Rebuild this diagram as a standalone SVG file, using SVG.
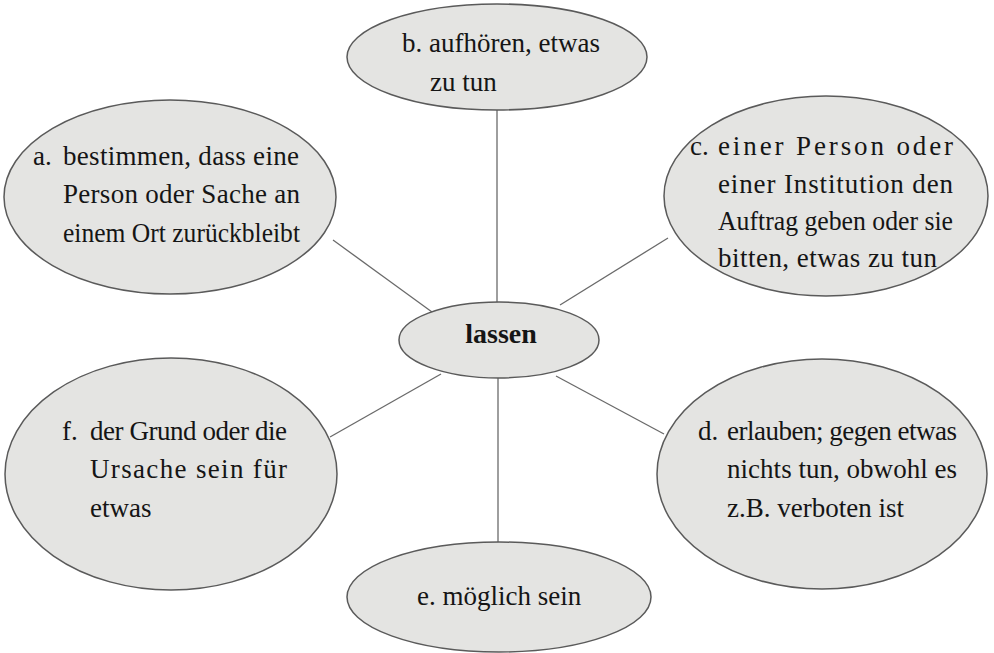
<svg xmlns="http://www.w3.org/2000/svg" width="994" height="653" viewBox="0 0 994 653">
<style>
.n{fill:#e4e4e2;stroke:#5a5a5a;stroke-width:1.5}
.t{font-family:"Liberation Serif","Times New Roman",serif;font-size:27px;fill:#151515}
.b{font-weight:bold;font-size:28px}
.c line{stroke:#6a6a6a;stroke-width:1.3}
</style>
<rect width="994" height="653" fill="#ffffff"/>
<g id="connectors" class="c">
<line x1="497" y1="110" x2="497" y2="302"/>
<line x1="498" y1="378" x2="498" y2="543"/>
<line x1="333" y1="240" x2="432" y2="312"/>
<line x1="668" y1="238" x2="560" y2="305"/>
<line x1="330" y1="437" x2="441" y2="374"/>
<line x1="556" y1="376" x2="664" y2="434"/>
</g>
<g id="node-b">
<ellipse class="n" cx="497" cy="57" rx="150" ry="53"/>
<text class="t" x="402" y="52">b. aufhören, etwas</text>
<text class="t" x="430" y="91">zu tun</text>
</g>
<g id="node-a">
<ellipse class="n" cx="170" cy="197" rx="166" ry="97"/>
<text class="t" x="33" y="165">a.</text>
<text class="t" x="63" y="165" textLength="236" lengthAdjust="spacing">bestimmen, dass eine</text>
<text class="t" x="63" y="203" textLength="237" lengthAdjust="spacing">Person oder Sache an</text>
<text class="t" x="63" y="242" textLength="237" lengthAdjust="spacingAndGlyphs">einem Ort zurückbleibt</text>
</g>
<g id="node-c">
<ellipse class="n" cx="826" cy="196" rx="162" ry="100"/>
<text class="t" x="690" y="155">c.</text>
<text class="t" x="718" y="155" textLength="235" lengthAdjust="spacing">einer Person oder</text>
<text class="t" x="718" y="193" textLength="235" lengthAdjust="spacing">einer Institution den</text>
<text class="t" x="718" y="230" textLength="235" lengthAdjust="spacingAndGlyphs">Auftrag geben oder sie</text>
<text class="t" x="718" y="267" textLength="219" lengthAdjust="spacing">bitten, etwas zu tun</text>
</g>
<g id="node-lassen">
<ellipse class="n" cx="499" cy="340" rx="100" ry="38"/>
<text class="t b" x="501" y="343" text-anchor="middle">lassen</text>
</g>
<g id="node-f">
<ellipse class="n" cx="171" cy="474" rx="166" ry="116"/>
<text class="t" x="62" y="440">f.</text>
<text class="t" x="90" y="440" textLength="197" lengthAdjust="spacing">der Grund oder die</text>
<text class="t" x="90" y="478" textLength="197" lengthAdjust="spacing">Ursache sein für</text>
<text class="t" x="90" y="517">etwas</text>
</g>
<g id="node-d">
<ellipse class="n" cx="822" cy="474" rx="165" ry="115"/>
<text class="t" x="698" y="440">d.</text>
<text class="t" x="727" y="440" textLength="230" lengthAdjust="spacing">erlauben; gegen etwas</text>
<text class="t" x="727" y="478" textLength="230" lengthAdjust="spacing">nichts tun, obwohl es</text>
<text class="t" x="727" y="517">z.B. verboten ist</text>
</g>
<g id="node-e">
<ellipse class="n" cx="499" cy="597" rx="152" ry="55"/>
<text class="t" x="417" y="605">e. möglich sein</text>
</g>
</svg>
